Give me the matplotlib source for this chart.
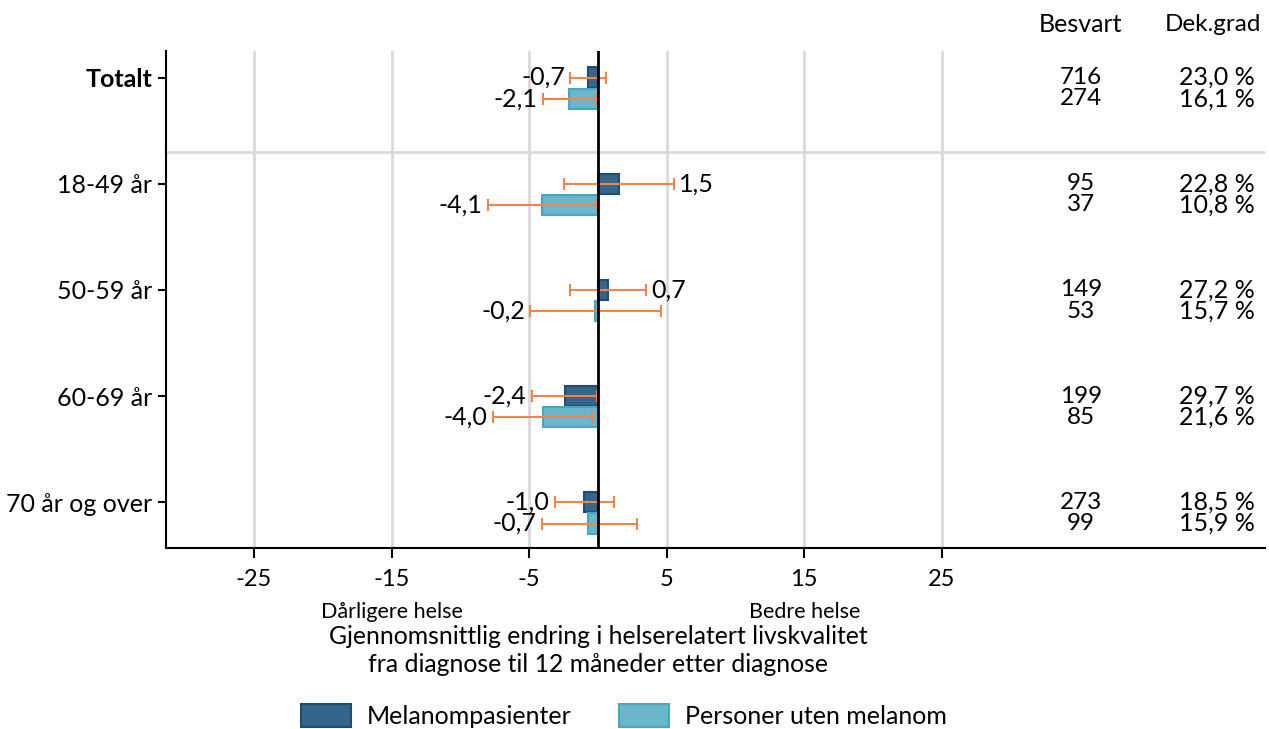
import matplotlib
matplotlib.use("Agg")
import matplotlib.pyplot as plt
from matplotlib.patches import Patch
import matplotlib.transforms as mtransforms

plt.rcParams['font.family'] = ['Lato', 'DejaVu Sans']

categories = ["Totalt", "18-49 år", "50-59 år", "60-69 år", "70 år og over"]
series_names = ["Melanompasienter", "Personer uten melanom"]
mel_values = [-0.7, 1.5, 0.7, -2.4, -1.0]
mel_low = [-2.0, -2.5, -2.0, -4.8, -3.15]
mel_high = [0.6, 5.5, 3.5, -0.05, 1.2]
pers_values = [-2.1, -4.1, -0.2, -4.0, -0.7]
pers_low = [-4.0, -8.0, -4.9, -7.6, -4.1]
pers_high = [-0.15, -0.1, 4.6, -0.4, 2.85]
mel_besvart = ["716", "95", "149", "199", "273"]
pers_besvart = ["274", "37", "53", "85", "99"]
mel_dek = ["23,0 %", "22,8 %", "27,2 %", "29,7 %", "18,5 %"]
pers_dek = ["16,1 %", "10,8 %", "15,7 %", "21,6 %", "15,9 %"]
xticks = [-25, -15, -5, 5, 15, 25]

mel_face, mel_edge = "#35658a", "#1d4d73"
pers_face, pers_edge = "#6ab6ca", "#48a7c0"
err_col = "#f2844a"
grid_col = "#d9d9d9"

W, H = 1269, 729
fig = plt.figure(figsize=(W / 100, H / 100), dpi=100)
ax = fig.add_axes([166 / W, (H - 548) / H, (1265 - 166) / W, (548 - 51) / H])

ax.set_xlim(-31.4, 48.5)
ax.set_ylim(4.43, -0.25)

ys = list(range(len(categories)))
off = 0.2
bh = 0.19

for x in xticks:
    ax.axvline(x, color=grid_col, lw=2, zorder=0)
ax.axhline(0.70, color=grid_col, lw=2, zorder=0)

ax.barh(ys, mel_values, height=bh, color=mel_face, edgecolor=mel_edge, linewidth=1.5, zorder=2)
ax.barh([y + off for y in ys], pers_values, height=bh, color=pers_face, edgecolor=pers_edge,
        linewidth=1.5, zorder=2)

def draw_err(yy, vals, lo, hi):
    xerr = [[v - l for v, l in zip(vals, lo)], [h - v for v, h in zip(vals, hi)]]
    ax.errorbar(vals, yy, xerr=xerr, fmt='none', ecolor=err_col, elinewidth=1.5,
                capsize=4, capthick=1.5, zorder=4)

draw_err(ys, mel_values, mel_low, mel_high)
draw_err([y + off for y in ys], pers_values, pers_low, pers_high)

ax.axvline(0, color="black", lw=2, zorder=5)

def fmt(v):
    return f"{v:.1f}".replace(".", ",")

for vals, lo, hi, dy in [(mel_values, mel_low, mel_high, 0), (pers_values, pers_low, pers_high, off)]:
    for y, v, l, h in zip(ys, vals, lo, hi):
        if v >= 0:
            ax.text(h + 0.4, y + dy, fmt(v), ha="left", va="center", fontsize=18, zorder=6)
        else:
            ax.text(l - 0.4, y + dy, fmt(v), ha="right", va="center", fontsize=18, zorder=6)

# table columns
for y in ys:
    ax.text(35.1, y, mel_besvart[y], ha="center", va="center", fontsize=17.5)
    ax.text(35.1, y + off, pers_besvart[y], ha="center", va="center", fontsize=17.5)
    ax.text(47.75, y, mel_dek[y], ha="right", va="center", fontsize=18)
    ax.text(47.75, y + off, pers_dek[y], ha="right", va="center", fontsize=18)
ax.text(35.1, -0.5, "Besvart", ha="center", va="center", fontsize=18, clip_on=False)
ax.text(44.7, -0.5, "Dek.grad", ha="center", va="center", fontsize=17.5, clip_on=False)

ax.set_yticks(ys)
ax.set_yticklabels(categories, fontsize=18)
ax.get_yticklabels()[0].set_fontweight("bold")
ax.set_xticks(xticks)
ax.set_xticklabels([str(x) for x in xticks], fontsize=17)
ax.tick_params(axis="x", length=7, width=1.5, pad=8)
ax.tick_params(axis="y", length=6, width=1.5, pad=4)

for s in ["top", "right"]:
    ax.spines[s].set_visible(False)
for s in ["left", "bottom"]:
    ax.spines[s].set_linewidth(1.5)

trans = mtransforms.blended_transform_factory(ax.transData, fig.transFigure)
ax.text(-15, (H - 612) / H, "Dårligere helse", transform=trans, ha="center", va="center", fontsize=15.5)
ax.text(15, (H - 612) / H, "Bedre helse", transform=trans, ha="center", va="center", fontsize=15.5)
ax.text(0, (H - 637) / H, "Gjennomsnittlig endring i helserelatert livskvalitet", transform=trans,
        ha="center", va="center", fontsize=17.8)
ax.text(0, (H - 664) / H, "fra diagnose til 12 måneder etter diagnose", transform=trans,
        ha="center", va="center", fontsize=17.8)

handles = [Patch(facecolor=mel_face, edgecolor=mel_edge, linewidth=1.5),
           Patch(facecolor=pers_face, edgecolor=pers_edge, linewidth=1.5)]
fig.legend(handles, series_names, loc="center", bbox_to_anchor=(624 / W, (H - 716) / H),
           ncol=2, frameon=False, fontsize=18, handlelength=2.0, handleheight=1.05,
           columnspacing=1.9, handletextpad=0.65)

fig.savefig("out.png", dpi=100)
